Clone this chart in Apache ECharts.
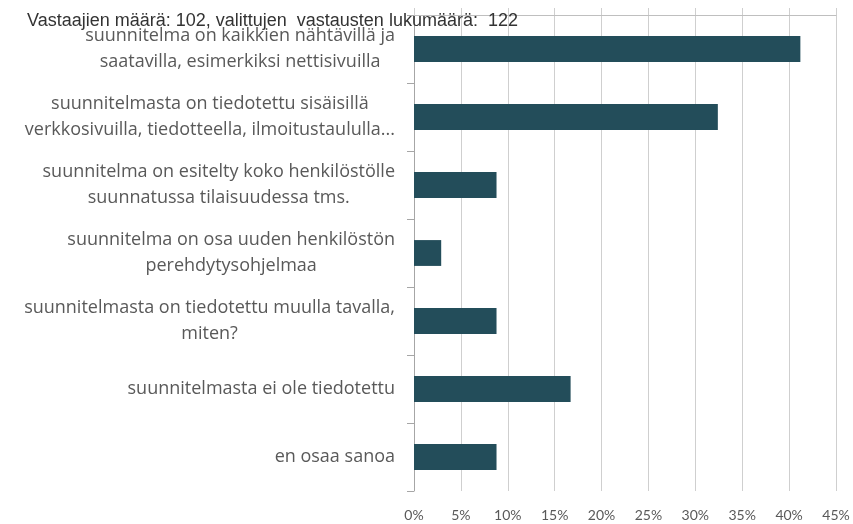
<!DOCTYPE html>
<html>
<head>
<meta charset="utf-8">
<script src="https://cdn.jsdelivr.net/npm/echarts@6/dist/echarts.min.js"></script>
<style>
  html, body { margin: 0; padding: 0; background: #fff; }
  #main { width: 853px; height: 524px; }
</style>
</head>
<body>
<div id="main"></div>
<script>
// vastausvaihtoehdot (ylhäältä alas)
const categories = [
    'suunnitelma on kaikkien nähtävillä ja\nsaatavilla, esimerkiksi nettisivuilla',
    'suunnitelmasta on tiedotettu sisäisillä\nverkkosivuilla, tiedotteella, ilmoitustaululla...',
    'suunnitelma on esitelty koko henkilöstölle\nsuunnatussa tilaisuudessa tms.',
    'suunnitelma on osa uuden henkilöstön\nperehdytysohjelmaa',
    'suunnitelmasta on tiedotettu muulla tavalla,\nmiten?',
    'suunnitelmasta ei ole tiedotettu',
    'en osaa sanoa'
];
// osuus vastaajista (%)
const shares = [41.2, 32.4, 8.8, 2.9, 8.8, 16.7, 8.8];
const titleText = 'Vastaajien määrä: 102, valittujen  vastausten lukumäärä:  122';

var myChart = echarts.init(document.getElementById('main'));

const option = {
    animation: false,
    title: {
        text: titleText,
        left: 22,
        top: 7,
        textStyle: {
            fontFamily: 'Liberation Sans',
            fontSize: 18,
            fontWeight: 'normal',
            color: '#333333'
        }
    },
    grid: { left: 414, right: 17, top: 15, bottom: 33 },
    xAxis: [{
        type: 'value',
        min: 0,
        max: 45,
        interval: 5,
        axisLine: { show: false },
        axisTick: { show: false },
        axisLabel: {
            formatter: '{value}%',
            margin: 17,
            color: '#595959',
            fontSize: 14,
            fontFamily: 'Lato'
        },
        splitLine: { lineStyle: { color: '#cfcfcf', width: 1 } }
    }, {
        // yläreunan viiva ja tikit
        type: 'value',
        position: 'top',
        min: 0,
        max: 45,
        interval: 5,
        axisLine: { show: true, lineStyle: { color: '#bfbfbf' } },
        axisTick: { show: true, length: 7, lineStyle: { color: '#cfcfcf' } },
        axisLabel: { show: false },
        splitLine: { show: false }
    }],
    yAxis: {
        type: 'category',
        inverse: true,
        data: categories,
        axisLine: { show: true, lineStyle: { color: '#a6a6a6' } },
        axisTick: { show: true, length: 7, lineStyle: { color: '#a6a6a6' } },
        axisLabel: {
            margin: 19,
            color: '#595959',
            fontSize: 18,
            fontFamily: 'Open Sans',
            lineHeight: 26,
            formatter: function (v) {
                return v.split('\n').map(s => '{c|' + s + '}').join('\n');
            },
            rich: {
                c: { align: 'center', color: '#595959', fontSize: 18, fontFamily: 'Open Sans', lineHeight: 26 }
            }
        }
    },
    series: [{
        type: 'bar',
        data: shares,
        barCategoryGap: '62%',
        itemStyle: { color: '#234d5a' }
    }]
};

myChart.setOption(option);
window.addEventListener('resize', myChart.resize);
</script>
</body>
</html>
